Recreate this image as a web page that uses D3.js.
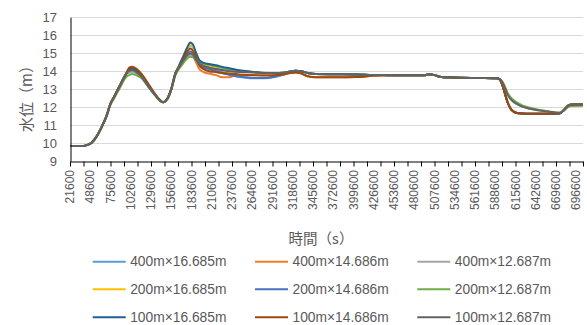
<!DOCTYPE html>
<html><head><meta charset="utf-8">
<script src="https://cdn.jsdelivr.net/npm/d3@7/dist/d3.min.js"></script>
<style>
body{margin:0;background:#fff;}
svg{display:block;font-family:"Liberation Sans",Arial,sans-serif;}
</style>
</head><body>
<svg id="chart" width="587" height="325"></svg>
<script>
// ---- DATA ----
const timeS = [21600,36000,45000,50400,57600,64800,70200,75600,81000,88200,
  95400,100800,104400,109800,117000,126000,133200,140400,145800,151200,
  156600,162000,167400,172800,178200,181800,185400,189000,194400,199800,
  207000,216000,225000,234000,243000,252000,266400,280800,295200,306000,
  315000,322200,329400,338400,349200,378000,403200,424800,446400,477000,
  495000,500400,507600,516600,540000,567000,590400,594000,597600,601200,
  604800,608400,612000,617400,624600,633600,646200,660600,669600,675000,
  680400,685800,691200,705600];

const seriesNames = ["400m×16.685m","400m×14.686m","400m×12.687m",
  "200m×16.685m","200m×14.686m","200m×12.687m",
  "100m×16.685m","100m×14.686m","100m×12.687m"];
const seriesColors = ["#5B9BD5","#ED7D31","#A5A5A5","#FFC000","#4472C4","#70AD47","#255E91","#9E480E","#636363"];

const s400x16685 = [9.83,9.83,9.9,10.02,10.4,10.98,11.5,12.2,12.62,13.2,13.78,
  14.03,14.07,13.97,
  13.72,13.17,12.78,12.42,12.27,12.45,13.0,13.85,
  14.3,14.75,15.2,15.45,15.32,14.95,14.45,14.3,14.22,14.1,13.95,13.82,13.72,13.66,13.6,13.6,13.68,
  13.8,13.95,14.02,14.0,13.9,13.84,13.83,13.82,13.79,13.78,
  13.77,13.78,13.83,13.78,13.67,13.64,13.62,13.6,
  13.55,13.28,12.8,12.3,11.97,11.78,11.67,11.64,11.63,11.63,11.63,11.63,11.66,11.85,12.08,12.15,12.15];
const s400x14686 = [9.83,9.83,9.9,10.02,10.4,10.98,11.5,12.2,12.62,13.2,13.78,
  14.12,14.15,14.05,
  13.75,13.2,12.8,12.42,12.27,12.45,13.0,13.85,
  14.22,14.55,14.85,14.95,14.85,14.55,14.1,13.95,13.87,13.78,13.66,13.66,13.78,13.8,13.79,13.77,13.78,
  13.82,13.9,13.93,13.88,13.72,13.66,13.66,13.67,13.74,13.77,
  13.77,13.78,13.83,13.78,13.67,13.64,13.62,13.6,
  13.55,13.28,12.8,12.3,11.97,11.78,11.67,11.64,11.63,11.63,11.63,11.63,11.66,11.85,12.08,12.15,12.15];
const s400x12687 = [9.83,9.83,9.9,10.02,10.4,10.98,11.5,12.2,12.62,13.2,13.78,
  13.93,13.97,13.88,
  13.65,13.15,12.76,12.41,12.27,12.44,12.98,13.82,
  14.2,14.55,14.83,14.9,14.87,14.65,14.42,14.3,14.22,14.15,14.08,14.02,13.98,13.96,13.94,13.91,13.9,
  13.92,13.98,14.03,14.0,13.9,13.84,13.83,13.82,13.79,13.78,
  13.77,13.78,13.83,13.78,13.67,13.64,13.62,13.6,
  13.58,13.42,13.1,12.72,12.48,12.33,12.18,12.03,11.92,11.82,11.74,11.69,11.68,11.85,12.08,12.15,12.15];
const s200x16685 = [9.83,9.83,9.9,10.02,10.4,10.98,11.5,12.2,12.62,13.2,13.78,
  14.05,14.08,13.98,
  13.7,13.17,12.78,12.42,12.27,12.45,13.0,13.85,
  14.32,14.78,15.25,15.5,15.36,15.0,14.5,14.36,14.3,14.25,14.18,14.1,14.03,13.98,13.94,13.9,13.9,
  13.92,13.98,14.03,14.0,13.9,13.84,13.83,13.82,13.79,13.78,
  13.77,13.78,13.83,13.78,13.67,13.64,13.62,13.6,
  13.55,13.28,12.8,12.3,11.97,11.78,11.67,11.64,11.63,11.63,11.63,11.63,11.66,11.85,12.08,12.15,12.15];
const s200x14686 = [9.83,9.83,9.9,10.02,10.4,10.98,11.5,12.2,12.62,13.2,13.78,
  14.08,14.1,14.0,
  13.7,13.17,12.78,12.42,12.27,12.45,13.0,13.85,
  14.25,14.6,14.95,15.1,15.0,14.72,14.35,14.22,14.12,14.0,13.88,13.8,13.72,13.68,13.62,13.62,13.72,
  13.85,13.96,14.02,14.0,13.9,13.84,13.83,13.82,13.79,13.78,
  13.77,13.78,13.83,13.78,13.67,13.64,13.62,13.6,
  13.55,13.28,12.8,12.3,11.97,11.78,11.67,11.64,11.63,11.63,11.63,11.63,11.66,11.85,12.08,12.15,12.15];
const s200x12687 = [9.83,9.83,9.9,10.02,10.38,10.95,11.45,12.12,12.52,13.08,13.62,
  13.8,13.85,13.78,
  13.62,13.12,12.74,12.4,12.27,12.43,12.95,13.75,
  14.15,14.45,14.72,14.8,14.78,14.65,14.5,14.43,14.35,14.27,14.18,14.1,14.04,13.99,13.95,13.9,13.9,
  13.92,13.98,14.03,14.0,13.9,13.84,13.83,13.82,13.79,13.78,
  13.77,13.78,13.83,13.78,13.67,13.64,13.62,13.6,
  13.58,13.45,13.18,12.82,12.58,12.42,12.26,12.1,11.98,11.86,11.76,11.7,11.68,11.82,12.0,12.06,12.07];
const s100x16685 = [9.83,9.83,9.9,10.02,10.4,10.98,11.5,12.2,12.62,13.2,13.78,
  14.12,14.15,14.05,
  13.7,13.17,12.78,12.42,12.27,12.45,13.0,13.85,
  14.35,14.85,15.35,15.6,15.5,15.1,14.6,14.46,14.4,14.33,14.24,14.16,14.08,14.02,13.96,13.9,13.9,
  13.92,13.98,14.03,14.0,13.9,13.84,13.83,13.82,13.79,13.78,
  13.77,13.78,13.83,13.78,13.67,13.64,13.62,13.6,
  13.55,13.28,12.8,12.3,11.97,11.78,11.67,11.64,11.63,11.63,11.63,11.63,11.66,11.85,12.08,12.15,12.15];
const s100x14686 = [9.83,9.83,9.9,10.02,10.4,10.98,11.5,12.2,12.62,13.2,13.78,
  14.2,14.25,14.15,
  13.85,13.3,12.85,12.45,12.28,12.45,13.0,13.88,
  14.25,14.7,15.1,15.27,15.15,14.82,14.3,14.12,14.0,13.95,13.9,13.87,13.84,13.8,13.77,13.76,13.78,
  13.82,13.9,13.93,13.88,13.72,13.66,13.66,13.67,13.74,13.77,
  13.77,13.78,13.83,13.78,13.67,13.64,13.62,13.6,
  13.55,13.28,12.8,12.3,11.97,11.78,11.67,11.64,11.63,11.63,11.63,11.63,11.66,11.85,12.08,12.15,12.15];
const s100x12687 = [9.83,9.83,9.9,10.02,10.4,10.98,11.5,12.2,12.62,13.2,13.78,
  14.02,14.05,13.95,
  13.7,13.17,12.78,12.42,12.27,12.45,13.0,13.85,
  14.25,14.6,14.9,14.98,14.93,14.68,14.42,14.3,14.2,14.12,14.06,14.0,13.97,13.95,13.93,13.9,13.9,
  13.92,13.98,14.03,14.0,13.9,13.84,13.83,13.82,13.79,13.78,
  13.77,13.78,13.83,13.78,13.67,13.64,13.62,13.6,
  13.58,13.42,13.1,12.72,12.48,12.33,12.18,12.03,11.92,11.82,11.74,11.69,11.68,11.85,12.08,12.15,12.15];

const seriesValues = [s400x16685,s400x14686,s400x12687,s200x16685,s200x14686,s200x12687,s100x16685,s100x14686,s100x12687];

const xLabelValues = [21600,48600,75600,102600,129600,156600,183600,210600,237600,264600,
  291600,318600,345600,372600,399600,426600,453600,480600,507600,534600,
  561600,588600,615600,642600,669600,696600];
const xTickMarks = d3.range(21600, 705601, 18000);
const yTickValues = [9,10,11,12,13,14,15,16,17];
const yTitle = "水位（m）";
const xTitle = "時間（s）";

// ---- DRAW ----
const svg = d3.select("#chart");
const x = d3.scaleLinear().domain([21600, 705600]).range([70, 583]);
const y = d3.scaleLinear().domain([9, 17]).range([161, 17.3]);
const textColor = "#595959";

svg.append("g").selectAll("line").data(yTickValues.filter(v => v > 9)).join("line")
  .attr("x1", 70).attr("x2", 583)
  .attr("y1", d => Math.round(y(d)) + 0.5).attr("y2", d => Math.round(y(d)) + 0.5)
  .attr("stroke", "#D9D9D9").attr("stroke-width", 1);

const line = d3.line().x((d, i) => x(timeS[i])).y(d => y(d)).curve(d3.curveMonotoneX);
svg.append("g").selectAll("path").data(seriesValues).join("path")
  .attr("d", d => line(d))
  .attr("fill", "none")
  .attr("stroke", (d, i) => seriesColors[i])
  .attr("stroke-width", 2)
  .attr("stroke-linejoin", "round");

const xAxis = svg.append("g").attr("transform", "translate(0,161.5)")
  .call(d3.axisBottom(x).tickValues(xTickMarks).tickSize(5).tickSizeOuter(0).tickFormat(""));
xAxis.select(".domain").attr("stroke", "#000");
xAxis.selectAll(".tick line").attr("stroke", "#000");

svg.append("g").selectAll("text").data(xLabelValues).join("text")
  .attr("transform", d => `translate(${x(d)},170) rotate(-90)`)
  .attr("text-anchor", "end")
  .attr("dominant-baseline", "central")
  .attr("fill", textColor)
  .attr("font-size", "12px")
  .text(d => d);

const yAxis = svg.append("g").attr("transform", "translate(70.5,0)")
  .call(d3.axisLeft(y).tickValues(yTickValues).tickSize(0).tickSizeOuter(0).tickFormat(""));
yAxis.select(".domain").attr("stroke", "#000");

svg.append("g").selectAll("text").data(yTickValues).join("text")
  .attr("x", 57).attr("y", d => y(d))
  .attr("text-anchor", "end")
  .attr("dominant-baseline", "central")
  .attr("fill", textColor)
  .attr("font-size", "13px")
  .text(d => d);

svg.append("text")
  .attr("transform", "translate(25,95) rotate(-90)")
  .attr("text-anchor", "middle").attr("dominant-baseline", "central")
  .attr("fill", textColor).attr("font-size", "15px")
  .attr("font-family", "'Noto Sans CJK JP', sans-serif")
  .text(yTitle);
svg.append("text")
  .attr("x", 321).attr("y", 237)
  .attr("text-anchor", "middle").attr("dominant-baseline", "central")
  .attr("fill", textColor).attr("font-size", "14.5px")
  .attr("font-family", "'Noto Sans CJK JP', sans-serif")
  .text(xTitle);

const colX = [92.7, 255, 417.3];
const rowY = [261.7, 289.3, 317.3];
const leg = svg.append("g").selectAll("g").data(seriesNames).join("g")
  .attr("transform", (d, i) => `translate(${colX[i % 3]},${rowY[Math.floor(i / 3)]})`);
leg.append("line").attr("x1", 0).attr("x2", 33).attr("y1", 0).attr("y2", 0)
  .attr("stroke", (d, i) => seriesColors[i]).attr("stroke-width", 2);
leg.append("text").attr("x", 37.5).attr("y", 0)
  .attr("dominant-baseline", "central")
  .attr("fill", textColor).attr("font-size", "13.8px")
  .text(d => d);
</script>
</body></html>
